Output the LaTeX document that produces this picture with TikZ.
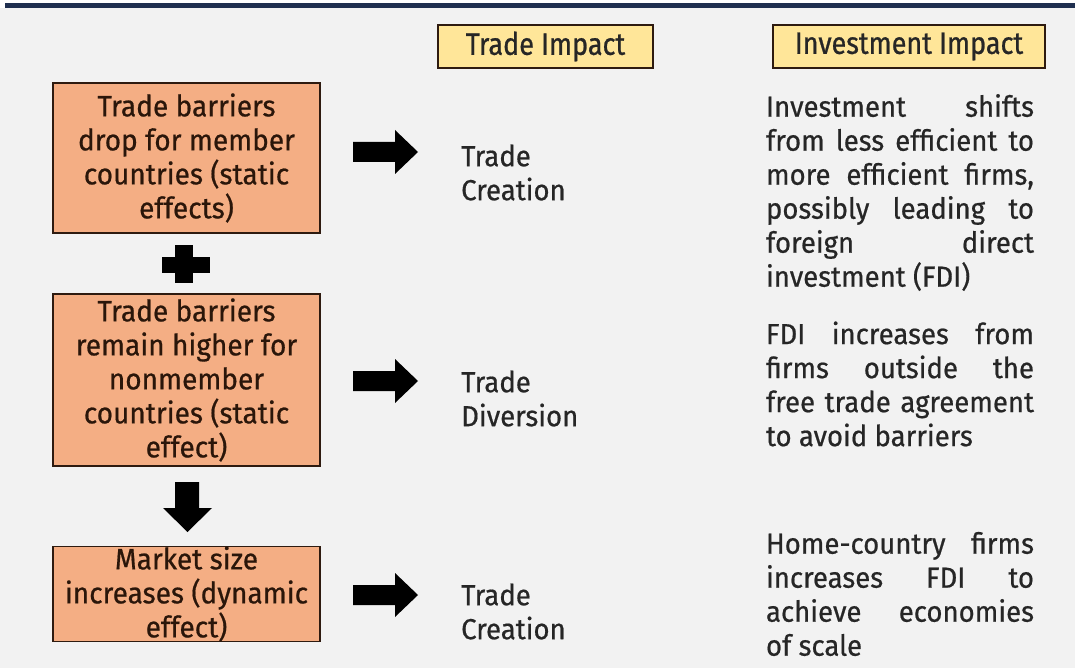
\documentclass[tikz,border=0pt]{standalone}
\usepackage{fontspec}
\setmainfont[FakeStretch=0.95,FakeBold=0.6]{Fira Sans}
\newfontfamily\hdfont[FakeStretch=0.87,FakeBold=0.8]{Fira Sans}
\definecolor{bg}{HTML}{F2F2F2}
\definecolor{boxor}{HTML}{F4AE84}
\definecolor{boxedge}{HTML}{2E1B10}
\definecolor{hdr}{HTML}{FFE699}
\definecolor{navy}{HTML}{1F2F4F}
\definecolor{txt}{HTML}{262626}
\definecolor{boxtxt}{HTML}{2A160A}
\newcommand\jl[1]{\makebox[268pt][s]{#1}}
\newcommand\rarrowat[1]{\fill[black] (353,{#1-10}) -- (395,{#1-10}) -- (395,{#1-22}) -- (418,#1) -- (395,{#1+22}) -- (395,{#1+10}) -- (353,{#1+10}) -- cycle;}
\tikzset{
  orbox/.style={draw=boxedge, line width=1.5pt, fill=boxor, minimum width=267pt, align=center, inner sep=0pt, text=boxtxt, font=\fontsize{29.5}{34}\selectfont},
  hdbox/.style={draw=boxedge, line width=1.3pt, fill=hdr, minimum height=43pt, inner sep=0pt, text=txt, font=\hdfont\fontsize{31}{34}\selectfont},
  tradetxt/.style={anchor=west, align=left, inner sep=0pt, text=txt, font=\fontsize{29}{34}\selectfont},
  invtxt/.style={align=left, inner sep=0pt, text=txt, font=\fontsize{29}{34}\selectfont}
}
\begin{document}
\begin{tikzpicture}[x=1pt,y=-1pt]
\fill[white] (0,0) rectangle (1075,668);
\fill[bg] (0,8) rectangle (1075,668);
\fill[navy] (5,3) rectangle (1075,8);
\useasboundingbox (0,0) rectangle (1075,668);

% headers
\node[hdbox, minimum width=215pt] (h1) at (545.5,46.5) {Trade Impact};
\node[hdbox, minimum width=272pt] (h2) at (909,46.5) {Investment Impact};

% left boxes
\node[orbox, minimum height=150pt] (b1) at (186.5,158) {Trade barriers\\drop for member\\countries (static\\effects)};
\node[orbox, minimum height=172pt] (b2) at (186.5,380) {Trade barriers\\remain higher for\\nonmember\\countries (static\\effect)};
\node[orbox, minimum height=92pt] (b3) at (186.5,594) {Market size\\increases (dynamic\\effect)};

% plus sign
\fill[black] (162,257) rectangle (210,273);
\fill[black] (175,245) rectangle (193,283);

% down arrow
\fill[black] (175,482) -- (199,482) -- (199,508) -- (212,508) -- (187.5,532) -- (163,508) -- (175,508) -- cycle;

% right arrows
\rarrowat{152}
\rarrowat{381}
\rarrowat{595}

% trade impact texts
\node[tradetxt] (t1) at (461,172.5) {Trade\\Creation};
\node[tradetxt] (t2) at (461,398.5) {Trade\\Diversion};
\node[tradetxt] (t3) at (461,611.5) {Trade\\Creation};

% investment impact texts
\node[invtxt] (r1) at (900,192.5) {\jl{Investment shifts}\\\jl{from less efficient to}\\\jl{more efficient firms,}\\\jl{possibly leading to}\\\jl{foreign direct}\\investment (FDI)};
\node[invtxt] (r2) at (900,384) {\jl{FDI increases from}\\\jl{firms outside the}\\\jl{free trade agreement}\\to avoid barriers};
\node[invtxt] (r3) at (900,594) {\jl{Home-country firms}\\\jl{increases FDI to}\\\jl{achieve economies}\\of scale};
\end{tikzpicture}
\end{document}
